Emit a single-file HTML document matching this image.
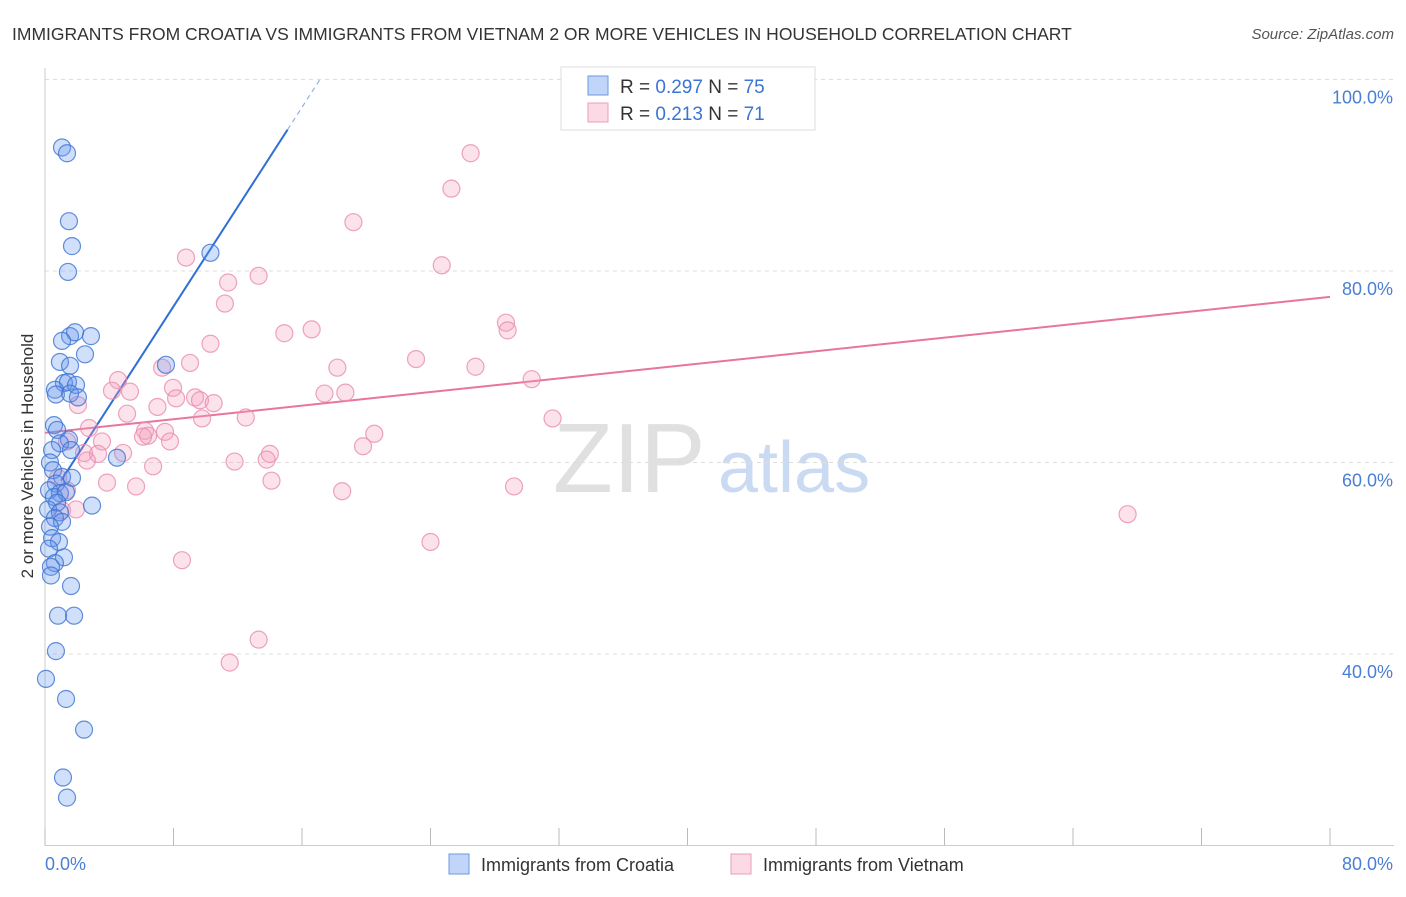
<!DOCTYPE html>
<html><head><meta charset="utf-8"><style>
body{margin:0;background:#fff;font-family:"Liberation Sans",sans-serif;}
svg text{font-family:"Liberation Sans",sans-serif;}
</style></head><body>
<svg id="chart" width="1406" height="892" viewBox="0 0 1406 892" xmlns="http://www.w3.org/2000/svg">
<text x="12" y="40" font-size="17.5" fill="#333">IMMIGRANTS FROM CROATIA VS IMMIGRANTS FROM VIETNAM 2 OR MORE VEHICLES IN HOUSEHOLD CORRELATION CHART</text>
<text x="1394" y="39" font-size="15" fill="#555" font-style="italic" text-anchor="end">Source: ZipAtlas.com</text>
<g>
<text x="553" y="492" font-size="98" fill="#e0e0e0" font-family="Liberation Serif">ZIP</text>
<text x="718" y="492" font-size="72" fill="#c9daf2">atlas</text>
</g>
<g id="grid"></g>
<g id="axes"></g>
<g id="lines"></g>
<g id="points"></g>
<text transform="translate(33,456) rotate(-90)" font-size="17" fill="#333" text-anchor="middle">2 or more Vehicles in Household</text>
<g>
<rect x="561" y="67" width="254" height="63" fill="#fff" stroke="#ddd"/>
<rect x="588" y="76" width="20" height="19" fill="rgba(100,149,237,0.4)" stroke="#6a9ae0"/>
<text x="620" y="93" font-size="19" fill="#333">R = <tspan fill="#3a74d4">0.297</tspan>   N = <tspan fill="#3a74d4">75</tspan></text>
<rect x="588" y="103" width="20" height="19" fill="rgba(245,160,190,0.4)" stroke="#eaa0bb"/>
<text x="620" y="120" font-size="19" fill="#333">R =  <tspan fill="#3a74d4">0.213</tspan>   N =  <tspan fill="#3a74d4">71</tspan></text>
</g>
<g>
<rect x="449" y="854" width="20" height="20" fill="rgba(100,149,237,0.4)" stroke="#6a9ae0"/>
<text x="481" y="871" font-size="18" fill="#333">Immigrants from Croatia</text>
<rect x="731" y="854" width="20" height="20" fill="rgba(245,160,190,0.4)" stroke="#eaa0bb"/>
<text x="763" y="871" font-size="18" fill="#333">Immigrants from Vietnam</text>
</g>
</svg>
<script>
const yTicks=[40,60,80,100];
const yTickLabels=["40.0%","60.0%","80.0%","100.0%"];
const xEndLabels=["0.0%","80.0%"];
const croatiaX=[1.06,1.37,1.49,1.68,1.43,10.3,1.56,1.87,2.86,1.06,2.49,0.93,1.56,7.53,1.18,1.43,1.93,0.62,0.68,1.56,2.05,0.56,0.75,1.49,0.93,0.44,1.62,4.48,0.31,0.5,1.06,1.68,0.68,0.25,0.93,0.56,1.31,0.75,2.93,0.19,0.93,0.62,1.06,0.31,0.44,0.87,0.25,1.18,0.62,0.37,0.37,1.62,0.81,1.81,0.68,0.06,1.31,2.43,1.12,1.37];
const croatiaY=[92.9,92.3,85.2,82.6,79.9,81.9,73.2,73.6,73.2,72.7,71.3,70.5,70.1,70.2,68.3,68.4,68.1,67.6,67.1,67.2,66.8,63.9,63.4,62.4,62.0,61.3,61.3,60.5,60.0,59.2,58.5,58.4,57.8,57.1,56.8,56.4,56.9,55.8,55.5,55.1,54.8,54.2,53.8,53.3,52.1,51.7,51.0,50.1,49.5,49.1,48.2,47.1,44.0,44.0,40.3,37.4,35.3,32.1,27.1,25.0];
const vietnamX=[26.5,25.3,19.2,8.78,24.7,13.3,11.4,11.2,28.7,28.8,16.6,14.9,10.3,23.1,26.8,9.03,7.29,18.2,30.3,4.55,4.17,5.29,7.97,17.4,18.7,8.16,9.34,9.65,10.5,2.05,7.0,5.11,9.78,12.5,31.6,2.74,6.23,7.47,6.42,6.1,20.5,3.55,7.78,19.8,1.37,2.43,3.3,4.86,14.0,13.8,2.61,11.8,6.73,0.81,14.1,3.86,5.67,29.2,1.37,18.5,1.93,67.4,24.0,8.53,13.3,11.5,1.06];
const vietnamY=[92.3,88.6,85.1,81.4,80.6,79.5,78.8,76.6,74.6,73.8,73.9,73.5,72.4,70.8,70.0,70.4,69.9,69.9,68.7,68.6,67.5,67.4,67.8,67.2,67.3,66.7,66.8,66.5,66.2,66.0,65.8,65.1,64.6,64.7,64.6,63.6,63.3,63.2,62.8,62.7,63.0,62.2,62.2,61.7,62.2,61.0,60.9,61.0,60.9,60.3,60.2,60.1,59.6,58.4,58.1,57.9,57.5,57.5,57.1,57.0,55.1,54.6,51.7,49.8,41.5,39.1,55.0];
const croatiaFit=[55.5,2.6];   // intercept, slope
const vietnamFit=[63.1,0.1775];
const NS="http://www.w3.org/2000/svg";
const X0=45,X1=1330,YB=845.5;
function sx(v){return X0+(X1-X0)*v/80;}
function sy(v){return YB-(v-20)*9.575;}
function mk(tag,attrs,parent){const e=document.createElementNS(NS,tag);for(const k in attrs)e.setAttribute(k,attrs[k]);document.getElementById(parent).appendChild(e);return e;}
yTicks.forEach((t,i)=>{
 const l=mk('line',{x1:X0,x2:1394,y1:sy(t),y2:sy(t),stroke:'#ddd','stroke-dasharray':'4,4'},'grid');
 
 
 const tx=mk('text',{x:1393,y:sy(t)+24,'font-size':18,fill:'#4a7fd4','text-anchor':'end'},'axes');
 tx.textContent=yTickLabels[i];
 
 
});
const ax=mk('line',{x1:X0,x2:1394,y1:YB,y2:YB,stroke:'#ccc'},'axes');


const ay=mk('line',{x1:X0,x2:X0,y1:68,y2:YB,stroke:'#ccc'},'axes');


for(let i=0;i<=10;i++){
 const t=mk('line',{x1:sx(i*8),x2:sx(i*8),y1:828,y2:YB,stroke:'#bbb'},'axes');
 
 
}
[[0,X0,'start'],[1,1393,'end']].forEach(([i,x,a])=>{
 const t=mk('text',{x:x,y:870,'font-size':18,fill:'#4a7fd4','text-anchor':a},'axes');
 t.textContent=xEndLabels[i];
 
 
});
function fy(f,x){return f[0]+f[1]*x;}
const vl=mk('line',{x1:sx(0),y1:sy(fy(vietnamFit,0)),x2:sx(80),y2:sy(fy(vietnamFit,80)),stroke:'#e8749f','stroke-width':2},'lines');


function drawPts(xs,ys,fill,stroke,name){
 xs.forEach((x,i)=>{
  const c=mk('circle',{cx:sx(x),cy:sy(ys[i]),r:8.5,fill:fill,stroke:stroke,'stroke-width':1.2},'points');
  
  
 });
}
drawPts(vietnamX,vietnamY,'rgba(245,160,190,0.3)','rgba(232,140,175,0.8)','point-vietnam');
drawPts(croatiaX,croatiaY,'rgba(100,149,237,0.3)','rgba(60,115,210,0.8)','point-croatia');
const bl=mk('line',{x1:sx(1.0),y1:sy(fy(croatiaFit,1.0)),x2:sx(15.1),y2:sy(fy(croatiaFit,15.1)),stroke:'#2f6fd6','stroke-width':2},'lines');


const bd=mk('line',{x1:sx(15.1),y1:sy(fy(croatiaFit,15.1)),x2:sx(17.1),y2:sy(fy(croatiaFit,17.1)),stroke:'#8fb0e6','stroke-width':1.2,'stroke-dasharray':'5,4'},'lines');


</script>
</body></html>
